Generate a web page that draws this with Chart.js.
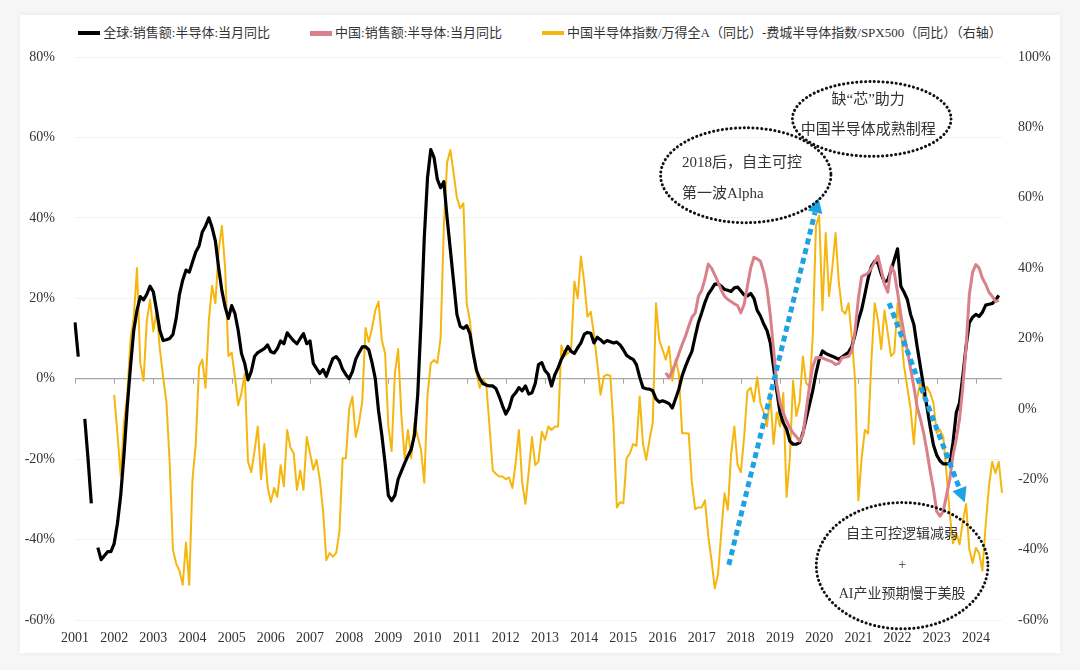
<!DOCTYPE html>
<html><head><meta charset="utf-8">
<script src="https://cdn.jsdelivr.net/npm/chart.js@4.4.1/dist/chart.umd.min.js"></script>
<style>
html,body{margin:0;padding:0;width:1080px;height:670px;background:#f6f6f6;overflow:hidden;}
#card{position:absolute;left:20px;top:15px;width:1040px;height:638px;background:#fff;box-shadow:0 0 6px rgba(0,0,0,0.05);}
#legend{position:absolute;left:0;top:24px;width:1080px;display:flex;justify-content:center;gap:40px;font:13px 'Liberation Serif','Noto Sans CJK SC',serif;color:#333;line-height:18px;}
.item{display:flex;align-items:center;}
.sw{width:22px;height:4px;margin-right:3px;}
canvas{position:absolute;left:0;top:0;}
</style></head>
<body><div id="card"></div><div id="legend"></div><canvas id="c" width="1080" height="670"></canvas>
<script>
// ---- categories ----
const years = [2001,2002,2003,2004,2005,2006,2007,2008,2009,2010,2011,2012,2013,2014,2015,2016,2017,2018,2019,2020,2021,2022,2023,2024];
const monthsInLastYear = 9;
const labels = [];
years.forEach((y, k) => {
  const n = k === years.length - 1 ? monthsInLastYear : 12;
  for (let m = 1; m <= n; m++) labels.push(y + '-' + String(m).padStart(2, '0'));
});

// ---- series names ----
const seriesNames = [
  '全球:销售额:半导体:当月同比',
  '中国:销售额:半导体:当月同比',
  '中国半导体指数/万得全A（同比）-费城半导体指数/SPX500（同比）（右轴）'
];

// ---- series values (%), monthly ----
const globalSales = [
  14,5.5,null,-10,-20,-31,null,-42,-45,-44,-43,-43,
  -41,-36,-29,-19,-7,3,12,17,20.4,19.6,21,23,
  21.6,17,12,9.5,9.7,10,11,15,21,24.5,27,26.5,
  29,31.5,33,36.5,38,40,37.6,34.3,27.6,21.9,17.8,15,
  18.2,16.2,12,6.3,3.8,-0.3,1.8,5.5,6.5,7,7.5,8.4,
  6.7,6.4,7.5,9.4,8.7,11.4,10.4,9.4,8.7,10,11.2,8.7,
  9.4,3.8,2.5,1.3,2.3,0.6,2.9,5,5.5,4.5,2.3,1,
  0,1.8,4.8,6.5,7.9,8,7.2,4,0,-8,-14,-21,
  -29,-30.3,-29,-25,-23,-21,-19.2,-17.6,-14,-4,14,35,
  50,57,55,49.6,47.5,49,40,32,24,16,13,12.5,
  13.2,11.2,6.3,2.1,0,-1.2,-1.6,-1.8,-1.8,-2.5,-4.5,-6.8,
  -8.8,-7.3,-4.5,-3.5,-2.2,-3,-1.8,-3.8,-3.5,-1.2,3.5,4,
  2,1.1,-1.8,1,2.7,4.8,6.4,8,6.8,6.3,7.7,8.9,
  11,11.5,11.3,8.9,10.3,9.7,8.9,9.5,9.2,8.9,9.1,8.4,
  7.2,5.8,5.2,4.8,3.5,0.4,-2.2,-2.5,-2.6,-3,-5,-5.8,
  -5.5,-5.8,-6.2,-7.3,-5,-2.6,0.7,3,5,6.8,10.5,14,
  16.4,19,21,22.2,23.5,23.6,23,22.2,22,21.7,22.6,22.8,
  21.8,20.8,20.6,21.2,20,17,15.6,13.6,12,9,3,-3,
  -8.5,-11,-12.5,-15.5,-16.3,-16.3,-15.9,-13.5,-10,-6.5,-3,1.3,
  4.8,6.9,6.3,5.9,5.6,5.2,4.8,5.4,6,6.6,8,11,
  14.5,17.2,21,25,28,29.2,28.7,26,24,24.5,27,29.6,
  32.3,23,21.5,19.7,16,13.5,8,3,-2,-7,-12,-16.5,
  -19,-20.4,-21.2,-21.2,-21,-15.8,-8.4,-5.9,0.7,8.1,13.9,15.3,
  16,15.5,16.5,18.3,18.5,18.7,19.5,20.7,null
];

const chinaSales = [].concat(new Array(181).fill(null), [
  1.5,0.2,2,3.9,6.2,8.5,10.5,13,15.3,16.3,20.5,
  22,24.8,28.5,27.5,25.8,24,22,20.5,19.7,19.2,18.6,18.2,
  16.4,18.5,23,27.5,30.2,29.8,29.2,26.5,22.5,16,7.5,-1.5,
  -6,-8.5,-10.5,-12.2,-13.5,-14.4,-15.5,-14,-8,-2,3,5.2,
  5.3,5.2,4.8,4.5,4.2,3.5,3.8,5.2,5.4,5.5,7,12,
  20,25.4,25.8,26.3,27.5,29,30.5,27,23.5,21.5,28,26.5,
  21.5,16,11,7,2.5,-2,-7,-10,-13.5,-18,-23,-27.5,
  -33,-34.2,-33,-29,-25,-19,-15,-10,-2,8,21,26.5,
  28.4,27.5,25,23.5,21.5,20.5,19.2,19.5,null
]);

const relIndex = [].concat(new Array(12).fill(null), [
  4,-7,-19,-4,4,19.6,26,40,13,8,25,31,
  22,28,17,9,2,-15,-40,-44,-46,-50,-38,-50,
  -20,-10,12,14,6,25,35,30,45,52,40,15,
  16,9,1,4.5,10,-15,-18,-12,-5,-20,-10,-22,
  -26.5,-22.5,-25,-16,-22,-6,-11,-12.6,-23,-17.5,-23,-8,
  -12.6,-17.3,-14.5,-20,-29,-43,-41,-42,-41,-35,-14,-14,
  0,3.5,-8,-4,2,23,19,23,28,30.5,19.6,15.8,
  -5,-12,10,17,-2,-14,-6,-14,-4,-8,-11.6,-21,
  4,13,13.9,13,20,52,70,73.6,67,60,57,58.4,
  30,25,14.9,10.1,6,8.5,7,-5,-17.5,-18.5,-19.2,-19.2,
  -20,-19.5,-22.5,-15.4,-6,-21,-27,-18,-8,-16,-15,-6.5,
  -8.8,-5,-6,-5,-5,18,15,15.8,17,36.2,31.4,43.3,
  36,26.2,27.6,21,13,4,9.2,9.7,9.4,-5,-28,-26.5,
  -26.8,-14,-12.6,-10,-10.5,3.5,-9.8,-14.5,-8.8,-4,30,19.6,
  16.8,14,17.7,8,14,10,-6.9,-6.9,-7,-21,-28.5,-28,
  -28,-26,-36,-43,-51,-47,-35,-24,-28.7,-13,-5,-16,
  -18,-8,5,6,2,9,1.6,-1,-5,4.5,-10,-1,
  -5,4.5,-25,-14,8,-2,2,14.9,7.3,6.3,20,52,
  55,28,50,32,40,50,36,28,27,30,20,8,
  -26,-14,-6,-7,14,30,25.3,17,28,21.5,15,16,
  30,22.4,12,6,0,-10,3,8,3,6.3,4.5,1.6,
  -6.9,-6,-7.9,-18.3,-30,-38.2,-35.3,-38.5,-32,-27,-40,-43.8,
  -39.5,-41,-46,-33,-22,-15,-18.3,-15,-23.9
]);

// ---- tick settings ----
const leftTicks = {min:-60, max:80, step:20};
const rightTicks = {min:-60, max:100, step:20};

// ---- annotations (in data coordinates: month index, left-axis %) ----
const ellipses = [
  {i:244.1, v:64.6, ri:24.3, rv:9.3, align:'center', tx:243, size:15, lines:[['缺“芯”助力',69.4],['中国半导体成熟制程',61.9]]},
  {i:205.5, v:50.6, ri:26.1, rv:11.8, align:'left', tx:186, size:15, lines:[['2018后，自主可控',53.6],['第一波Alpha',45.8]]},
  {i:253.4, v:-46.5, ri:26.3, rv:15.7, align:'center', tx:253.4, size:14, lines:[['自主可控逻辑减弱',-38.8],['+',-46.3],['AI产业预期慢于美股',-53.7]]}
];
const arrows = [
  {from:[200.3,-46.3], to:[227.8,45]},
  {from:[249.4,18.8], to:[272.6,-30.8]}
];

const colors = ['#000000', '#d9808a', '#f5b70f'];
const FONT = "'Liberation Serif','Noto Sans CJK SC',serif";

// legend (HTML)
const lg = document.getElementById('legend');
seriesNames.forEach((n, k) => {
  const d = document.createElement('div'); d.className = 'item';
  const s = document.createElement('div'); s.className = 'sw'; s.style.background = colors[k];
  if (k === 1) s.style.height = '5px';
  const t = document.createElement('span'); t.textContent = n;
  d.appendChild(s); d.appendChild(t); lg.appendChild(d);
});

const zeroTicks = {
  id:'zeroTicks',
  beforeDatasetsDraw(chart){
    const {ctx, scales:{x, y}} = chart;
    const y0 = y.getPixelForValue(0);
    ctx.save(); ctx.strokeStyle = '#a6a6a6'; ctx.lineWidth = 1;
    labels.forEach((l, i) => {
      if (l.endsWith('-01')) {
        const px = Math.round(x.getPixelForValue(i)) + 0.5;
        ctx.beginPath(); ctx.moveTo(px, y0); ctx.lineTo(px, y0 + 5); ctx.stroke();
      }
    });
    ctx.restore();
  }
};

const annot = {
  id:'annot',
  afterDatasetsDraw(chart){
    const {ctx, scales:{x, y}} = chart;
    ctx.save();
    arrows.forEach(a => {
      const x1 = x.getPixelForValue(a.from[0]), y1 = y.getPixelForValue(a.from[1]);
      const x2 = x.getPixelForValue(a.to[0]), y2 = y.getPixelForValue(a.to[1]);
      const ang = Math.atan2(y2 - y1, x2 - x1);
      const head = 15, hw = 7.5;
      const bx = x2 - head * Math.cos(ang), by = y2 - head * Math.sin(ang);
      ctx.strokeStyle = '#1ea2e4'; ctx.fillStyle = '#1ea2e4';
      ctx.lineWidth = 5; ctx.setLineDash([6, 4]); ctx.lineCap = 'butt';
      ctx.beginPath(); ctx.moveTo(x1, y1); ctx.lineTo(bx, by); ctx.stroke();
      ctx.setLineDash([]);
      ctx.beginPath();
      ctx.moveTo(x2, y2);
      ctx.lineTo(bx + hw * Math.sin(ang), by - hw * Math.cos(ang));
      ctx.lineTo(bx - hw * Math.sin(ang), by + hw * Math.cos(ang));
      ctx.closePath(); ctx.fill();
    });
    ellipses.forEach(e => {
      const cx = x.getPixelForValue(e.i), cy = y.getPixelForValue(e.v);
      const rx = x.getPixelForValue(e.i + e.ri) - cx;
      const ry = y.getPixelForValue(e.v - e.rv) - cy;
      ctx.strokeStyle = '#111'; ctx.lineWidth = 3; ctx.lineCap = 'round';
      ctx.setLineDash([0.1, 4.3]);
      ctx.beginPath(); ctx.ellipse(cx, cy, rx, ry, 0, 0, Math.PI * 2); ctx.stroke();
      ctx.setLineDash([]);
      ctx.fillStyle = '#333'; ctx.font = e.size + 'px ' + FONT;
      ctx.textAlign = e.align; ctx.textBaseline = 'middle';
      const tx = x.getPixelForValue(e.tx);
      e.lines.forEach(([t, v]) => ctx.fillText(t, tx, y.getPixelForValue(v)));
    });
    ctx.restore();
  }
};

new Chart(document.getElementById('c'), {
  type:'line',
  data:{
    labels,
    datasets:[
      {label:seriesNames[0], data:globalSales, borderColor:colors[0], borderWidth:3.2, yAxisID:'y', order:2, spanGaps:false},
      {label:seriesNames[1], data:chinaSales, borderColor:colors[1], borderWidth:3, yAxisID:'y', order:1},
      {label:seriesNames[2], data:relIndex, borderColor:colors[2], borderWidth:2, yAxisID:'y1', order:3}
    ]
  },
  options:{
    responsive:false, animation:false, devicePixelRatio:1,
    layout:{padding:{top:57, left:0, right:0, bottom:0}},
    elements:{point:{radius:0}, line:{tension:0, borderJoinStyle:'round'}},
    plugins:{legend:{display:false}, tooltip:{enabled:false}},
    scales:{
      x:{
        type:'category', offset:false,
        grid:{display:false, drawTicks:false}, border:{display:false},
        ticks:{autoSkip:false, maxRotation:0, minRotation:0, padding:10, color:'#333', font:{family:FONT, size:14},
          callback(v){ const l = this.getLabelForValue(v); return l.endsWith('-01') ? l.slice(0,4) : null; }},
        afterFit(s){ s.height = 50; }
      },
      y:{
        position:'left', min:leftTicks.min, max:leftTicks.max,
        ticks:{stepSize:leftTicks.step, padding:20, color:'#333', font:{family:FONT, size:14}, callback:v => v + '%'},
        grid:{drawTicks:false, color:c => (c.tick && c.tick.value === 0) ? '#a6a6a6' : '#f3f3f3', lineWidth:c => (c.tick && c.tick.value === 0) ? 1.3 : 1},
        border:{display:false},
        afterFit(s){ s.width = 75; }
      },
      y1:{
        position:'right', min:rightTicks.min, max:rightTicks.max,
        ticks:{stepSize:rightTicks.step, padding:16, color:'#333', font:{family:FONT, size:14}, callback:v => v + '%'},
        grid:{display:false, drawTicks:false}, border:{display:false},
        afterFit(s){ s.width = 78; }
      }
    }
  },
  plugins:[zeroTicks, annot]
});
</script></body></html>
